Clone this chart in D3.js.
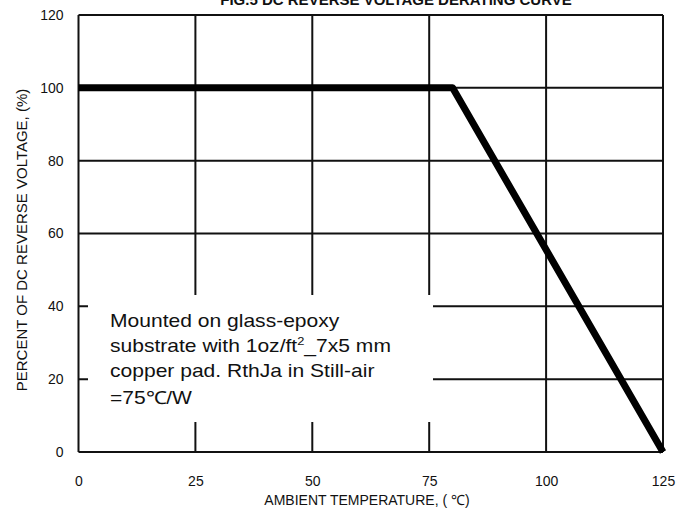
<!DOCTYPE html>
<html>
<head>
<meta charset="utf-8">
<script src="https://cdn.jsdelivr.net/npm/d3@7"></script>
<style>
  html, body { margin: 0; padding: 0; background: #fff; }
  svg { display: block; font-family: "Liberation Sans", Arial, sans-serif; }
</style>
</head>
<body>
<svg id="chart" width="678" height="513"></svg>
<script>
// ---- data ----
const curveTemps = [0, 80, 125];          // ambient temperature (°C)
const curvePercents = [100, 100, 0];      // % of DC reverse voltage
const xTicks = [0, 25, 50, 75, 100, 125];
const yTicks = [0, 20, 40, 60, 80, 100, 120];
const titleText = "FIG.5  DC REVERSE VOLTAGE DERATING CURVE";
const xLabel = "AMBIENT TEMPERATURE, ( \u2103)";
const yLabel = "PERCENT OF DC REVERSE VOLTAGE, (%)";
const noteLines = ["Mounted on glass-epoxy", "substrate with 1oz/ft", "copper pad. RthJa in Still-air", "=75\u2103/W"];

const svg = d3.select("#chart");
const x = d3.scaleLinear().domain([0, 125]).range([78.5, 663]);
const y = d3.scaleLinear().domain([0, 120]).range([452, 15]);

// grid
const g = svg.append("g");
g.selectAll("line.v").data(xTicks).join("line")
  .attr("x1", d => x(d)).attr("x2", d => x(d))
  .attr("y1", y(0)).attr("y2", y(120))
  .attr("stroke", "#111").attr("stroke-width", 2);
g.selectAll("line.h").data(yTicks).join("line")
  .attr("x1", x(0)).attr("x2", x(125))
  .attr("y1", d => y(d)).attr("y2", d => y(d))
  .attr("stroke", "#111").attr("stroke-width", 2);

// axes labels via d3 axes (no domain / tick lines)
const xAxis = svg.append("g").attr("transform", `translate(0,${y(0)})`)
  .call(d3.axisBottom(x).tickValues(xTicks).tickSize(0).tickPadding(24));
const yAxis = svg.append("g").attr("transform", `translate(${x(0)},0)`)
  .call(d3.axisLeft(y).tickValues(yTicks).tickSize(0).tickPadding(15));
[xAxis, yAxis].forEach(a => {
  a.select(".domain").remove();
  a.selectAll("text").attr("font-size", 14).attr("fill", "#111")
    .attr("font-family", "'Liberation Sans', Arial, sans-serif");
});

// annotation box (white background breaks the grid)
svg.append("rect").attr("x", 88).attr("y", 295).attr("width", 345).attr("height", 127).attr("fill", "#fff");

// curve
const line = d3.line().x(d => x(d[0])).y(d => y(d[1]));
svg.append("path")
  .datum(curveTemps.map((t, i) => [t, curvePercents[i]]))
  .attr("d", line)
  .attr("fill", "none").attr("stroke", "#000").attr("stroke-width", 7)
  .attr("stroke-linejoin", "round");

// note text
const noteY = [327, 352, 377, 404];
const note = svg.append("g").attr("font-size", 18).attr("fill", "#111");
noteLines.forEach((t, i) => {
  const tx = note.append("text")
    .attr("transform", `translate(110,${noteY[i]}) scale(1.17,1)`);
  if (i === 1) {
    tx.append("tspan").text(t);
    tx.append("tspan").attr("font-size", 11).attr("dy", -7).text("2");
    tx.append("tspan").attr("dy", 7).text("_7x5 mm");
  } else {
    tx.text(t);
  }
});

// title (cut off at the top edge, as in the reference)
svg.append("text").attr("x", 396).attr("y", 5).attr("text-anchor", "middle")
  .attr("font-size", 15).attr("font-weight", "bold").attr("fill", "#111").text(titleText);

// axis titles
svg.append("text").attr("x", 367).attr("y", 505).attr("text-anchor", "middle")
  .attr("font-size", 14).attr("fill", "#111").text(xLabel);
svg.append("text").attr("transform", "translate(27,240) rotate(-90)").attr("text-anchor", "middle")
  .attr("font-size", 15).attr("fill", "#111").text(yLabel);
</script>
</body>
</html>
